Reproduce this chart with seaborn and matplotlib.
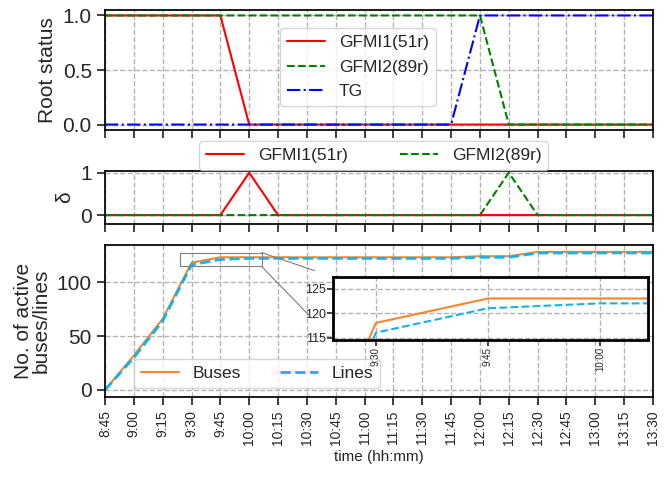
import numpy as np
import pandas as pd
import matplotlib
matplotlib.use("Agg")
import matplotlib.pyplot as plt
from matplotlib.patches import ConnectionPatch
import seaborn as sns

# ---------------- data ----------------
times = ["8:45", "9:00", "9:15", "9:30", "9:45", "10:00", "10:15", "10:30", "10:45",
         "11:00", "11:15", "11:30", "11:45", "12:00", "12:15", "12:30", "12:45",
         "13:00", "13:15", "13:30"]
root_gfmi1 = [1, 1, 1, 1, 1, 0, 0, 0, 0, 0, 0, 0, 0, 0, 0, 0, 0, 0, 0, 0]
root_gfmi2 = [1, 1, 1, 1, 1, 1, 1, 1, 1, 1, 1, 1, 1, 1, 0, 0, 0, 0, 0, 0]
root_tg    = [0, 0, 0, 0, 0, 0, 0, 0, 0, 0, 0, 0, 0, 1, 1, 1, 1, 1, 1, 1]
delta_gfmi1 = [0, 0, 0, 0, 0, 1, 0, 0, 0, 0, 0, 0, 0, 0, 0, 0, 0, 0, 0, 0]
delta_gfmi2 = [0, 0, 0, 0, 0, 0, 0, 0, 0, 0, 0, 0, 0, 0, 1, 0, 0, 0, 0, 0]
buses = [0, 32, 66, 118, 123, 123, 123, 123, 123, 123, 123, 123, 123, 124, 124,
         128, 128, 128, 128, 128]
lines = [0, 30, 64, 116, 121, 122, 122, 122, 122, 122, 122, 122, 122, 123, 123,
         127, 127, 127, 127, 127]

def to_min(t):
    h, m = t.split(":")
    return int(h) * 60 + int(m)

t0 = to_min(times[0])
minutes = [to_min(t) - t0 for t in times]

df = pd.DataFrame({
    "t": minutes,
    "root_gfmi1": root_gfmi1, "root_gfmi2": root_gfmi2, "root_tg": root_tg,
    "d_gfmi1": delta_gfmi1, "d_gfmi2": delta_gfmi2,
    "buses": buses, "lines": lines,
})

# ---------------- style ----------------
sns.set_style("ticks")
plt.rcParams["font.family"] = ["Liberation Sans", "DejaVu Sans"]
plt.rcParams["axes.linewidth"] = 1.25

RED = "#ff0000"
GREEN = "#008000"
BLUE = "#0000ff"
ORANGE = "#f7862c"
CYAN = "#16b2ec"

fig = plt.figure(figsize=(6.65, 4.79), dpi=100)
L, W = 105 / 665, 548 / 665
ax1 = fig.add_axes([L, 1 - 130 / 479, W, 120 / 479])
ax2 = fig.add_axes([L, 1 - 224 / 479, W, 53 / 479], sharex=ax1)
ax3 = fig.add_axes([L, 1 - 397 / 479, W, 152 / 479], sharex=ax1)

lw = 1.5
# top panel
sns.lineplot(data=df, x="t", y="root_gfmi1", ax=ax1, color=RED, lw=lw, label="GFMI1(51r)")
sns.lineplot(data=df, x="t", y="root_gfmi2", ax=ax1, color=GREEN, lw=lw, ls="--", label="GFMI2(89r)")
sns.lineplot(data=df, x="t", y="root_tg", ax=ax1, color=BLUE, lw=lw, ls="-.", label="TG")
ax1.set_ylabel("Root status", fontsize=15)
ax1.set_xlabel("")
ax1.set_ylim(-0.05, 1.05)
ax1.set_yticks([0, 0.5, 1.0])
ax1.set_yticklabels(["0.0", "0.5", "1.0"])
ax1.legend(loc="center", bbox_to_anchor=(0.461, 0.525), fontsize=12.5,
           handlelength=2.2, labelspacing=0.55)

# middle panel
sns.lineplot(data=df, x="t", y="d_gfmi1", ax=ax2, color=RED, lw=lw, label="GFMI1(51r)")
sns.lineplot(data=df, x="t", y="d_gfmi2", ax=ax2, color=GREEN, lw=lw, ls="--", label="GFMI2(89r)")
ax2.set_ylabel("δ", fontsize=15)
ax2.set_xlabel("")
ax2.set_ylim(-0.21, 1.04)
ax2.set_yticks([0, 1])
ax2.legend(loc="lower center", bbox_to_anchor=(0.49, 1.0), ncol=2, fontsize=12.5,
           borderaxespad=0.05, columnspacing=3.0, handlelength=2.2)

# bottom panel
sns.lineplot(data=df, x="t", y="buses", ax=ax3, color=ORANGE, lw=lw, label="Buses")
sns.lineplot(data=df, x="t", y="lines", ax=ax3, color=CYAN, lw=2.0, ls="--", label="Lines")
ax3.set_ylabel("No. of active\nbuses/lines", fontsize=15, linespacing=0.95)
ax3.set_ylim(-6.5, 134.4)
ax3.set_yticks([0, 50, 100])
ax3.legend(loc="lower left", bbox_to_anchor=(0.053, 0.06), ncol=2, fontsize=12.5,
           borderaxespad=0, columnspacing=2.2, handlelength=2.2)
ax3.set_xlabel("time (hh:mm)", fontsize=11)

for ax in (ax1, ax2, ax3):
    ax.set_xlim(minutes[0], minutes[-1])
    ax.set_xticks(minutes)
    ax.grid(True, ls="--", color="#b4b4b4", lw=1.0)
    ax.tick_params(axis="both", length=6, width=1.25, labelsize=15)
    for s in ax.spines.values():
        s.set_linewidth(1.25)
        s.set_color("black")
ax1.tick_params(axis="x", labelbottom=False)
ax2.tick_params(axis="x", labelbottom=False)
ax3.set_xticklabels(times, rotation=90)
ax3.tick_params(axis="x", labelsize=10)

# inset
axin = fig.add_axes([333 / 665, 1 - 340 / 479, 315 / 665, 63 / 479])
sns.lineplot(data=df, x="t", y="buses", ax=axin, color=ORANGE, lw=1.5, legend=False)
sns.lineplot(data=df, x="t", y="lines", ax=axin, color=CYAN, lw=1.5, ls="--", legend=False)
axin.set_xlim(minutes[3] - 0.384 * 15, minutes[5] + 0.43 * 15)
axin.set_ylim(114.5, 127.4)
axin.set_xticks(minutes[3:6])
axin.set_xticklabels(times[3:6], rotation=90)
axin.set_yticks([115, 120, 125])
axin.set_xlabel("")
axin.set_ylabel("")
axin.grid(True, ls="--", color="#b4b4b4", lw=1.0)
axin.tick_params(axis="y", labelsize=9, length=4, width=1.2, pad=1)
axin.tick_params(axis="x", labelsize=7, length=4, width=1.2, pad=1)
for s in axin.spines.values():
    s.set_linewidth(2.0)
    s.set_color("black")

ind = ax3.indicate_inset_zoom(axin, edgecolor="#808080", linewidth=0.8, alpha=1.0)
for c in ind.connectors:
    c.set_visible(False)

x0, x1 = axin.get_xlim()
y0, y1 = axin.get_ylim()
for (xa, ya), (xb, yb), shr in [((x1, y1), (0, 1), 14), ((x1, y0), (0, 0), 22)]:
    cp = ConnectionPatch(xyA=(xa, ya), coordsA=ax3.transData,
                         xyB=(xb, yb), coordsB=axin.transAxes,
                         color="#808080", lw=0.8, zorder=5, shrinkA=0, shrinkB=shr)
    fig.add_artist(cp)

fig.savefig("out.png", dpi=100)
